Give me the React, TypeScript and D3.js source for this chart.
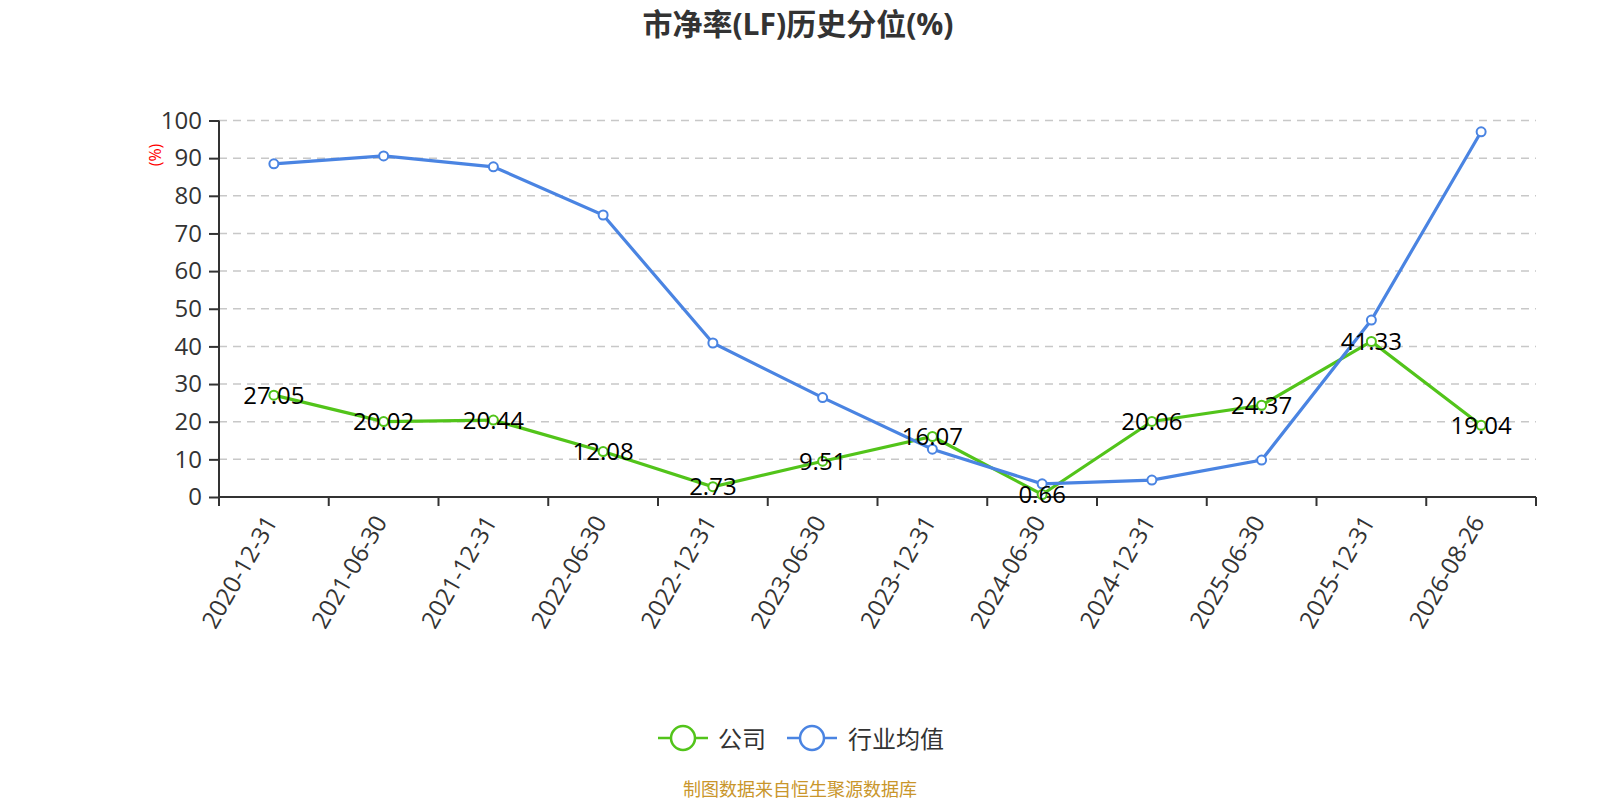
import { useEffect, useRef } from "react";
import * as d3 from "d3";

const dates = [
	"2020-12-31",
	"2021-06-30",
	"2021-12-31",
	"2022-06-30",
	"2022-12-31",
	"2023-06-30",
	"2023-12-31",
	"2024-06-30",
	"2024-12-31",
	"2025-06-30",
	"2025-12-31",
	"2026-08-26",
];

const companyValues = [27.05, 20.02, 20.44, 12.08, 2.73, 9.51, 16.07, 0.66, 20.06, 24.37, 41.33, 19.04];
const industryValues = [88.5, 90.6, 87.7, 74.9, 40.9, 26.4, 12.7, 3.5, 4.5, 9.8, 47.0, 97.0];

const yTicks = [0, 10, 20, 30, 40, 50, 60, 70, 80, 90, 100];

const seriesNames = ["公司", "行业均值"];
const seriesColors = ["#52c41a", "#4a84e2"];

const FONT = "'Open Sans', 'Noto Sans CJK SC', sans-serif";

const App = () => {
	const containerRef = useRef<HTMLDivElement>(null);

	useEffect(() => {
		if (!containerRef.current) {
			return;
		}

		const width = 1600;
		const height = 800;
		const margin = { top: 120.5, right: 64, bottom: 303, left: 219 };
		const innerWidth = width - margin.left - margin.right;
		const innerHeight = height - margin.top - margin.bottom;

		const svg = d3
			.select(containerRef.current)
			.append("svg")
			.attr("width", width)
			.attr("height", height)
			.style("position", "absolute")
			.style("left", 0)
			.style("top", 0)
			.style("font-family", FONT);

		svg.append("rect").attr("width", width).attr("height", height).attr("fill", "#ffffff");

		svg
			.append("text")
			.attr("x", 798)
			.attr("y", 23)
			.attr("text-anchor", "middle")
			.attr("dominant-baseline", "central")
			.attr("font-size", 30)
			.attr("font-weight", 700)
			.attr("fill", "#333333")
			.text("市净率(LF)历史分位(%)");

		const content = svg
			.append("g")
			.attr("transform", `translate(${margin.left},${margin.top})`);

		const xScale = d3.scaleBand().domain(dates).range([0, innerWidth]);
		const yScale = d3.scaleLinear().domain([0, 100]).range([innerHeight, 0]);
		const xPos = (d: string) => (xScale(d) ?? 0) + xScale.bandwidth() / 2;

		// grid
		content
			.selectAll("line.grid")
			.data(yTicks.filter((t) => t > 0))
			.join("line")
			.attr("class", "grid")
			.attr("x1", 0)
			.attr("x2", innerWidth)
			.attr("y1", (t) => yScale(t))
			.attr("y2", (t) => yScale(t))
			.attr("stroke", "#c8c8c8")
			.attr("stroke-width", 1.5)
			.attr("stroke-dasharray", "8,6");

		// y axis
		content
			.append("g")
			.call(d3.axisLeft(yScale).tickValues(yTicks).tickSize(10).tickPadding(7))
			.call((g) => g.select(".domain").attr("stroke", "#333333").attr("stroke-width", 2).attr("d", `M0,0V${innerHeight}`))
			.call((g) => g.selectAll(".tick line").attr("stroke", "#333333").attr("stroke-width", 2))
			.selectAll("text")
			.attr("fill", "#333333")
			.attr("font-size", 24)
			.attr("font-family", FONT);

		// x axis
		const xAxis = content.append("g").attr("transform", `translate(0,${innerHeight})`);
		xAxis
			.append("line")
			.attr("x1", 0)
			.attr("x2", innerWidth)
			.attr("stroke", "#333333")
			.attr("stroke-width", 2);
		xAxis
			.selectAll("line.tick")
			.data(d3.range(dates.length + 1))
			.join("line")
			.attr("class", "tick")
			.attr("x1", (i) => i * xScale.bandwidth())
			.attr("x2", (i) => i * xScale.bandwidth())
			.attr("y1", 0)
			.attr("y2", 9)
			.attr("stroke", "#333333")
			.attr("stroke-width", 2);
		xAxis
			.selectAll("text")
			.data(dates)
			.join("text")
			.attr("transform", (d) => `translate(${xPos(d) - 4},${20}) rotate(-60)`)
			.attr("text-anchor", "end")
			.attr("dominant-baseline", "central")
			.attr("font-size", 24)
			.attr("fill", "#333333")
			.text((d) => d);

		svg
			.append("text")
			.attr("transform", `translate(155,155) rotate(-90)`)
			.attr("text-anchor", "middle")
			.attr("dominant-baseline", "central")
			.attr("font-size", 16)
			.attr("fill", "#ff0000")
			.text("(%)");

		const line = d3
			.line<number>()
			.x((_, i) => xPos(dates[i]))
			.y((v) => yScale(v));

		const allSeries = [companyValues, industryValues];

		allSeries.forEach((values, si) => {
			content
				.append("path")
				.datum(values)
				.attr("d", line)
				.attr("fill", "none")
				.attr("stroke", seriesColors[si])
				.attr("stroke-width", 3.2);
		});

		allSeries.forEach((values, si) => {
			content
				.append("g")
				.selectAll("circle")
				.data(values)
				.join("circle")
				.attr("cx", (_, i) => xPos(dates[i]))
				.attr("cy", (v) => yScale(v))
				.attr("r", 4.5)
				.attr("fill", "#ffffff")
				.attr("stroke", seriesColors[si])
				.attr("stroke-width", 2);
		});

		content
			.append("g")
			.selectAll("text")
			.data(companyValues)
			.join("text")
			.attr("x", (_, i) => xPos(dates[i]))
			.attr("y", (v) => yScale(v) - 1)
			.attr("text-anchor", "middle")
			.attr("dominant-baseline", "central")
			.attr("font-size", 24)
			.attr("fill", "#000000")
			.text((v) => v.toFixed(2));

		// legend
		const legendItems = [
			{ x: 658, textX: 718 },
			{ x: 787, textX: 848 },
		];
		const legend = svg.append("g").attr("transform", `translate(0,738)`);
		legendItems.forEach((item, i) => {
			const g = legend.append("g").attr("transform", `translate(${item.x},0)`);
			g.append("line")
				.attr("x1", 0)
				.attr("x2", 50)
				.attr("stroke", seriesColors[i])
				.attr("stroke-width", 2.5);
			g.append("circle")
				.attr("cx", 25)
				.attr("r", 12)
				.attr("fill", "#ffffff")
				.attr("stroke", seriesColors[i])
				.attr("stroke-width", 2.5);
			legend
				.append("text")
				.attr("x", item.textX)
				.attr("y", 0)
				.attr("dominant-baseline", "central")
				.attr("font-size", 24)
				.attr("fill", "#333333")
				.text(seriesNames[i]);
		});

		svg
			.append("text")
			.attr("x", 800)
			.attr("y", 789)
			.attr("text-anchor", "middle")
			.attr("dominant-baseline", "central")
			.attr("font-size", 18)
			.attr("fill", "#c9962b")
			.text("制图数据来自恒生聚源数据库");

		return () => {
			svg.remove();
		};
	}, []);

	return <div ref={containerRef} style={{ width: 1600, height: 800 }} />;
};

export default App;
